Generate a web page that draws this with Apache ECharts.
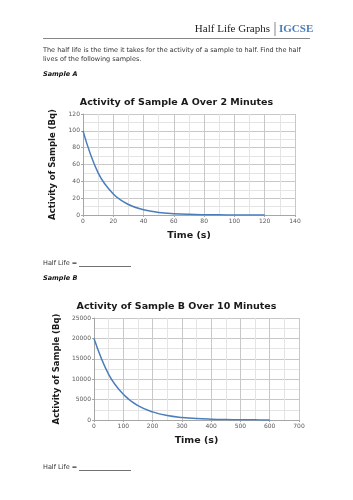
<!DOCTYPE html>
<html>
<head>
<meta charset="utf-8">
<script src="https://cdn.jsdelivr.net/npm/echarts@6/dist/echarts.min.js"></script>
<style>
  html, body { margin: 0; padding: 0; background: #fff; }
  #sheet { width: 353px; height: 500px; }
</style>
</head>
<body>
<div id="sheet"></div>
<script>
// Sample A: activity (Bq) read every 10 s
var timeA = [0, 10, 20, 30, 40, 50, 60, 70, 80, 90, 100, 110, 120];
var activityA = [100, 50, 25, 12.5, 6.3, 3.1, 1.6, 0.8, 0.4, 0.2, 0.1, 0.05, 0.02];

// Sample B: activity (Bq) read every 50 s
var timeB = [0, 50, 100, 150, 200, 250, 300, 350, 400, 450, 500, 550, 600];
var activityB = [20000, 11200, 6300, 3500, 2000, 1100, 630, 350, 200, 110, 60, 35, 20];

var titleA = 'Activity of Sample A Over 2 Minutes';
var titleB = 'Activity of Sample B Over 10 Minutes';
var yName = 'Activity of Sample (Bq)';
var xName = 'Time (s)';

var LINE_BLUE = '#4a7ebb';
var TEXT = '#1a1a1a';

var chart = echarts.init(document.getElementById('sheet'));

var pairs = function (xs, ys) {
    return xs.map(function (x, i) { return [x, ys[i]]; });
};

var plainNumber = function (v) { return String(v); };

var makeXAxis = function (gridIndex, max, interval) {
    return {
        gridIndex: gridIndex,
        type: 'value',
        min: 0,
        max: max,
        interval: interval,
        name: xName,
        nameLocation: 'middle',
        nameGap: 16,
        nameTextStyle: { fontFamily: 'DejaVu Sans', fontWeight: 'bold', fontSize: 9.5, color: TEXT },
        axisLine: { show: true, lineStyle: { color: '#a6a6a6', width: 1 } },
        axisTick: { show: true, length: 2, lineStyle: { color: '#a6a6a6' } },
        axisLabel: { fontFamily: 'DejaVu Sans', fontSize: 6, color: '#595959', margin: 3, formatter: plainNumber },
        splitLine: { show: true, lineStyle: { color: '#c8c8c8', width: 1 } },
        minorTick: { show: false, splitNumber: 2 },
        minorSplitLine: { show: true, lineStyle: { color: '#e4e4e4', width: 1 } }
    };
};

var makeYAxis = function (gridIndex, max, interval, gap) {
    return {
        gridIndex: gridIndex,
        type: 'value',
        min: 0,
        max: max,
        interval: interval,
        name: yName,
        nameLocation: 'middle',
        nameRotate: 90,
        nameGap: gap,
        nameTextStyle: { fontFamily: 'DejaVu Sans', fontWeight: 'bold', fontSize: 8.5, color: TEXT },
        axisLine: { show: true, lineStyle: { color: '#a6a6a6', width: 1 } },
        axisTick: { show: true, length: 2, lineStyle: { color: '#a6a6a6' } },
        axisLabel: { fontFamily: 'DejaVu Sans', fontSize: 6, color: '#595959', margin: 3, formatter: plainNumber },
        splitLine: { show: true, lineStyle: { color: '#c8c8c8', width: 1 } },
        minorTick: { show: false, splitNumber: 2 },
        minorSplitLine: { show: true, lineStyle: { color: '#e4e4e4', width: 1 } }
    };
};

var bodyText = { fontFamily: 'DejaVu Sans', fontSize: 6.5, fill: '#333' };

var option = {
    animation: false,
    title: [
        {
            text: titleA, left: 'center', top: 93,
            textStyle: { fontFamily: 'DejaVu Sans', fontWeight: 'bold', fontSize: 9.5, color: TEXT }
        },
        {
            text: titleB, left: 'center', top: 297,
            textStyle: { fontFamily: 'DejaVu Sans', fontWeight: 'bold', fontSize: 9.5, color: TEXT }
        }
    ],
    grid: [
        { left: 83, top: 114, width: 212, height: 101 },
        { left: 94, top: 318, width: 205, height: 102 }
    ],
    xAxis: [makeXAxis(0, 140, 20), makeXAxis(1, 700, 100)],
    yAxis: [makeYAxis(0, 120, 20, 18), makeYAxis(1, 25000, 5000, 28)],
    series: [
        {
            type: 'line', xAxisIndex: 0, yAxisIndex: 0,
            data: pairs(timeA, activityA),
            smooth: 0.4, showSymbol: false,
            lineStyle: { color: LINE_BLUE, width: 1.5 }
        },
        {
            type: 'line', xAxisIndex: 1, yAxisIndex: 1,
            data: pairs(timeB, activityB),
            smooth: 0.4, showSymbol: false,
            lineStyle: { color: LINE_BLUE, width: 1.5 }
        }
    ],
    graphic: [
        {
            type: 'text', right: 83, top: 24,
            style: { text: 'Half Life Graphs', fontFamily: 'Liberation Serif', fontSize: 11, fill: '#222' }
        },
        {
            type: 'line', shape: { x1: 275, y1: 22, x2: 275, y2: 36 },
            style: { stroke: '#888', lineWidth: 1 }
        },
        {
            type: 'text', left: 279, top: 24,
            style: { text: 'IGCSE', fontFamily: 'Liberation Serif', fontWeight: 'bold', fontSize: 11, fill: LINE_BLUE }
        },
        {
            type: 'line', shape: { x1: 43, y1: 38.5, x2: 310, y2: 38.5 },
            style: { stroke: '#888', lineWidth: 1 }
        },
        {
            type: 'text', left: 43, top: 47,
            style: Object.assign({ text: 'The half life is the time it takes for the activity of a sample to half. Find the half' }, bodyText)
        },
        {
            type: 'text', left: 43, top: 56,
            style: Object.assign({ text: 'lives of the following samples.' }, bodyText)
        },
        {
            type: 'text', left: 43, top: 71,
            style: { text: 'Sample A', fontFamily: 'DejaVu Sans', fontWeight: 'bold', fontStyle: 'italic', fontSize: 6.5, fill: '#111' }
        },
        {
            type: 'text', left: 43, top: 260,
            style: Object.assign({ text: 'Half Life =' }, bodyText)
        },
        {
            type: 'line', shape: { x1: 79, y1: 266.5, x2: 131, y2: 266.5 },
            style: { stroke: '#333', lineWidth: 0.7 }
        },
        {
            type: 'text', left: 43, top: 275,
            style: { text: 'Sample B', fontFamily: 'DejaVu Sans', fontWeight: 'bold', fontStyle: 'italic', fontSize: 6.5, fill: '#111' }
        },
        {
            type: 'text', left: 43, top: 464,
            style: Object.assign({ text: 'Half Life =' }, bodyText)
        },
        {
            type: 'line', shape: { x1: 79, y1: 470.5, x2: 131, y2: 470.5 },
            style: { stroke: '#333', lineWidth: 0.7 }
        }
    ]
};

chart.setOption(option);
</script>
</body>
</html>
